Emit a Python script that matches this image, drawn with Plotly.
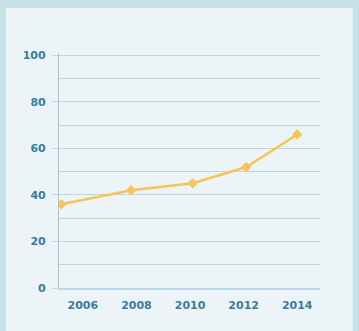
import plotly.graph_objects as go

# Series values (x positions in years, y values)
years = [2005.2, 2007.8, 2010.1, 2012.1, 2014.0]
values = [36, 42, 45, 52, 66]

# Axis tick labels
x_ticks = [2006, 2008, 2010, 2012, 2014]
x_tick_text = ["2006", "2008", "2010", "2012", "2014"]
y_ticks = [0, 20, 40, 60, 80, 100]

LABEL = "#3a7b9c"
GRID = "#bad8ea"
LINE = "#f4c55a"
FONT = "DejaVu Sans, Arial Black, sans-serif"

fig = go.Figure()
fig.add_trace(go.Scatter(
    x=years, y=values, mode="lines+markers",
    line=dict(color=LINE, width=2.5),
    marker=dict(color=LINE, size=8, symbol="diamond"),
    hoverinfo="skip", showlegend=False,
))

# light inner panel behind the chart
fig.add_shape(type="rect", xref="paper", yref="paper",
              x0=-0.203, x1=1.126, y0=-0.19, y1=1.1915,
              fillcolor="#edf4f7", line=dict(width=0), layer="below")

fig.update_layout(
    width=359, height=331,
    margin=dict(l=59, r=39, t=53, b=43),
    paper_bgcolor="#c8e2ea",
    plot_bgcolor="rgba(0,0,0,0)",
    font=dict(family=FONT, size=11, color=LABEL),
    xaxis=dict(
        range=[2005.11, 2014.85], tickvals=x_ticks,
        ticktext=["<b>%s</b>" % t for t in x_tick_text],
        showgrid=False, zeroline=False, showline=True,
        linecolor=GRID, linewidth=1.5, ticks="",
        tickfont=dict(size=11, color=LABEL, family=FONT),
        ticklabelstandoff=6,
    ),
    yaxis=dict(
        range=[0, 101], tickvals=y_ticks,
        ticktext=["<b>%d</b>" % v for v in y_ticks],
        showgrid=True, gridcolor=GRID, gridwidth=1,
        zeroline=False, showline=True, linecolor="#a9c3d2", linewidth=1.2,
        ticks="outside", ticklen=6, tickcolor=GRID,
        minor=dict(dtick=10, showgrid=True, gridcolor=GRID, gridwidth=1, ticks=""),
        tickfont=dict(size=11, color=LABEL, family=FONT),
        ticklabelstandoff=4,
    ),
)

fig.write_html("out.html")
